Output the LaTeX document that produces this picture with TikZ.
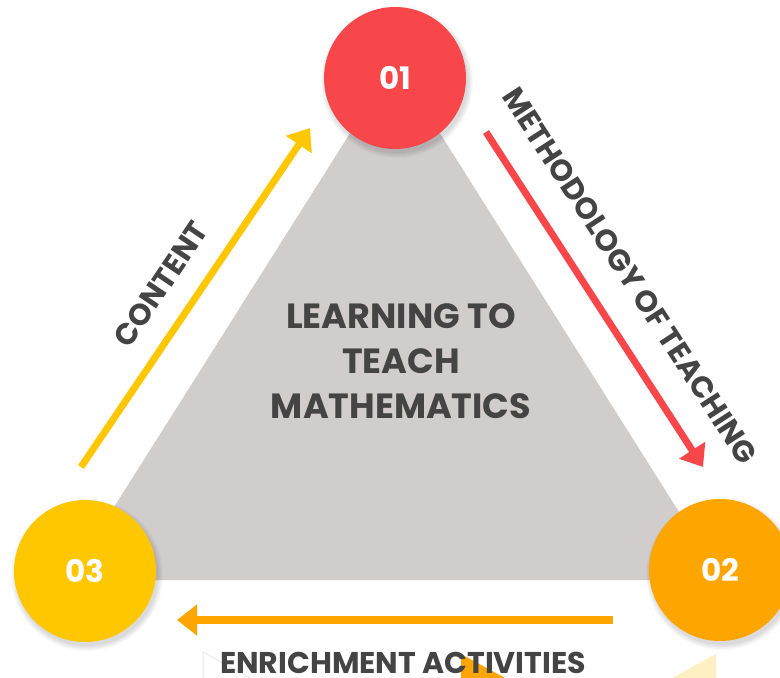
\documentclass[tikz,border=0pt]{standalone}
\usepackage{fontspec}
\setmainfont{Poppins}
\usetikzlibrary{arrows.meta}
\begin{document}
\begin{tikzpicture}[x=1pt,y=-1pt]
\definecolor{cred}{RGB}{247,71,74}
\definecolor{corange}{RGB}{255,165,0}
\definecolor{cyellow}{RGB}{255,199,0}
\definecolor{cgray}{RGB}{210,205,205}
\definecolor{ctext}{RGB}{68,68,68}
\definecolor{cpale}{RGB}{255,240,196}
\tikzset{
  numcirc/.style={circle,minimum size=142pt,inner sep=0pt,text=white,font=\bfseries\fontsize{31}{31}\selectfont},
  lbl/.style={text=ctext,font=\bfseries\fontsize{30}{30}\selectfont,inner sep=0pt},
  arr/.style={line width=7pt,-{Triangle[width=30pt,length=20pt]}},
  shadowc/.style={fill=black,fill opacity=0.025,draw=none},
}
\fill[white] (0,0) rectangle (780,678);
\useasboundingbox (0,0) rectangle (780,678);
% central triangle
\fill[cgray] (395,62) -- (722,580) -- (68,580) -- cycle;
% partial shapes at the bottom edge
\draw[black!8,line width=1pt] (203,678) -- (203,652) -- (250,678);
\fill[corange] (461,654) -- (505,678) -- (461,678) -- cycle;
\fill[cpale] (672,678) -- (716,654) -- (716,678) -- cycle;
% arrow end points
\coordinate (yS) at (81,467);
\coordinate (yE) at (310,128);
\coordinate (rS) at (486,132);
\coordinate (rE) at (703,467);
\coordinate (oS) at (613,620);
\coordinate (oE) at (177,620);
\draw[arr,cyellow] (yS) -- (yE);
\draw[arr,cred] (rS) -- (rE);
\draw[arr,corange,line width=8pt] (oS) -- (oE);
% labels
\node[lbl,rotate=56] (lc) at (161,284) {CONTENT};
\node[lbl,rotate=-57] (lm) at (630,276) {METHODOLOGY OF TEACHING};
\node[lbl] (le) at (403,663) {ENRICHMENT ACTIVITIES};
\node[lbl,align=center,font=\bfseries\fontsize{35}{45}\selectfont] (main) at (401,361) {LEARNING TO\\TEACH\\MATHEMATICS};
% circle shadows
\foreach \px/\py in {395/78,720/570,85/571}{
  \foreach \r in {71,72,73,74,75,76}{
    \fill[shadowc] (\px+2,\py+4) circle (\r);
  }
}
\node[numcirc,fill=cred] (c1) at (395,78) {01};
\node[numcirc,fill=corange] (c2) at (720,570) {02};
\node[numcirc,fill=cyellow] (c3) at (85,571) {03};
\end{tikzpicture}
\end{document}
